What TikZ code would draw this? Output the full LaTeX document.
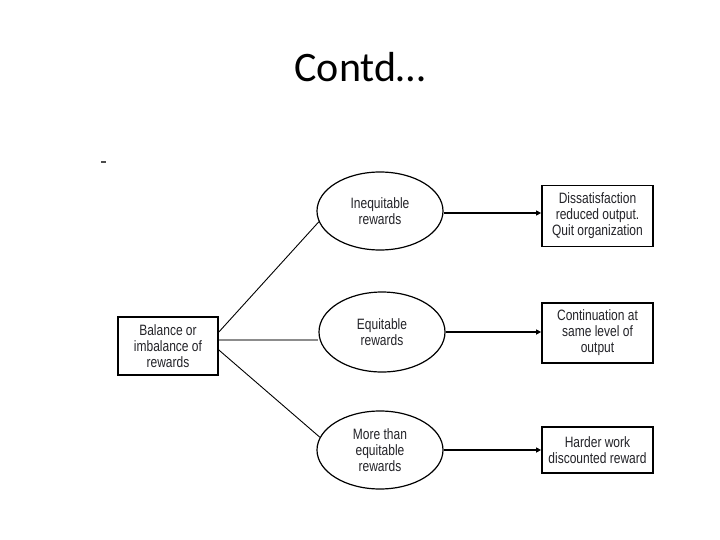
\documentclass[tikz,border=0pt]{standalone}
\usepackage{fontspec}
\setmainfont{Carlito}
\newfontfamily\narrowfont[FakeStretch=0.8]{Liberation Sans}
\usetikzlibrary{shapes.geometric,arrows.meta}
\definecolor{txt}{RGB}{35,35,40}
\tikzset{
  rbox/.style={draw=black, line width=1.7pt, rectangle, inner sep=0pt, align=center,
    font=\narrowfont\fontsize{15}{16}\selectfont, text=txt},
  oval/.style={draw=black, line width=1.2pt, ellipse, inner sep=0pt, align=center,
    minimum width=126pt, minimum height=78pt, font=\narrowfont\fontsize{15}{16}\selectfont, text=txt},
  link/.style={draw=black, line width=0.9pt},
  arr/.style={draw=black, line width=1.2pt, -{Triangle[length=5pt,width=5pt]}}
}
\begin{document}
\begin{tikzpicture}[x=1pt,y=-1pt]
\useasboundingbox (0,0) rectangle (720,540);
\fill[white] (0,0) rectangle (720,540);
\node[font=\fontsize{42}{46}\selectfont] (title) at (360,67) {Contd…};
\fill[black!70] (101,161.5) rectangle (106,163);
\node[rbox, minimum width=100pt, minimum height=58pt] (bal) at (168,346) {Balance or\\imbalance of\\rewards};
\node[oval] (ine) at (380,211) {Inequitable\\rewards};
\node[oval, minimum height=80pt] (equ) at (382,332) {Equitable\\rewards};
\node[oval, minimum height=78pt] (mor) at (380,450) {More than\\equitable\\rewards};
\node[rbox, minimum width=111pt, minimum height=61pt] (dis) at (597.5,216) {Dissatisfaction\\reduced output.\\Quit organization};
\node[rbox, minimum width=111pt, minimum height=60pt] (con) at (597.5,333) {Continuation at\\same level of\\output};
\node[rbox, minimum width=111pt, minimum height=46pt] (har) at (597.5,450) {Harder work\\discounted reward};
\coordinate (b1) at ([yshift=14pt]bal.east);
\coordinate (b2) at ([yshift=6pt]bal.east);
\coordinate (b3) at ([yshift=-4pt]bal.east);
\draw[link] (b1) -- (ine.190);
\draw[draw=black!45, line width=2.6pt] (b2) -- (b2 -| equ.west);
\draw[link] (b3) -- (mor.168);
\draw[arr] (ine.east |- 0,213) -- (dis.west |- 0,213);
\draw[arr] (equ.east) -- (con.west |- equ.east);
\draw[arr] (mor.east) -- (har.west);
\end{tikzpicture}
\end{document}
